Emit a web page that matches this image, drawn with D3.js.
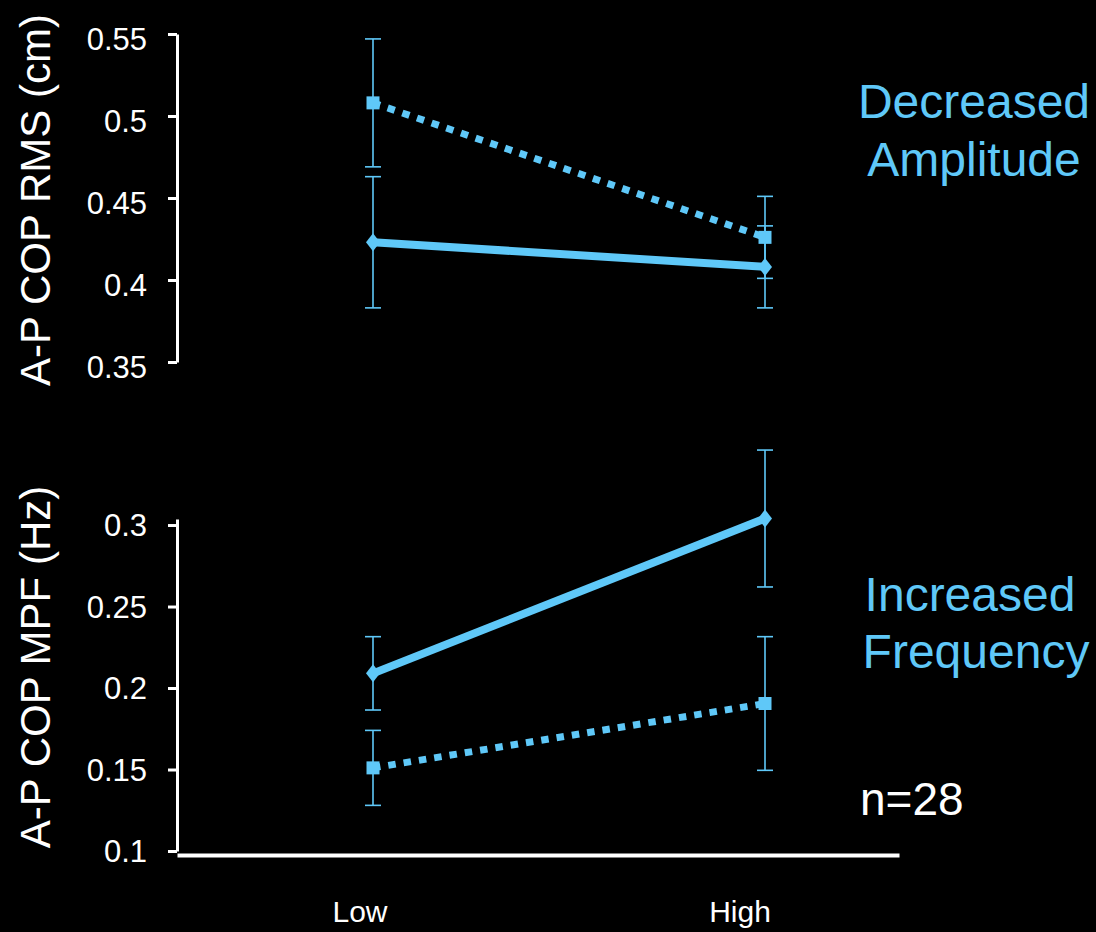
<!DOCTYPE html>
<html>
<head>
<meta charset="utf-8">
<script src="https://cdn.jsdelivr.net/npm/d3@7"></script>
<style>
    html, body { margin: 0; padding: 0; background: #000; }
    svg { display: block; }
    text { font-family: "Liberation Sans", Arial, sans-serif; }
</style>
</head>
<body>
<div id="chart"></div>
<script>
// conditions on the x axis
const conditions = ["Low", "High"];

// top panel: A-P COP RMS (cm)
const rmsTicks = [0.35, 0.4, 0.45, 0.5, 0.55];
const rmsTickLabels = ["0.35", "0.4", "0.45", "0.5", "0.55"];
const rmsSolid = [0.423, 0.408];
const rmsSolidErr = [0.040, 0.025];
const rmsDotted = [0.508, 0.426];
const rmsDottedErr = [0.039, 0.025];

// bottom panel: A-P COP MPF (Hz)
const mpfTicks = [0.1, 0.15, 0.2, 0.25, 0.3];
const mpfTickLabels = ["0.1", "0.15", "0.2", "0.25", "0.3"];
const mpfSolid = [0.209, 0.304];
const mpfSolidErr = [0.0225, 0.042];
const mpfDotted = [0.151, 0.1905];
const mpfDottedErr = [0.023, 0.041];

const width = 1096;
const height = 932;
const blue = "#5fc8f8";
const axisX = 177;

const svg = d3.select("#chart")
              .append("svg")
              .attr("width", width)
              .attr("height", height);

svg.append("rect")
   .attr("width", width)
   .attr("height", height)
   .attr("fill", "#000");

// category scales: data points and labels sit at slightly different spots
const xScale = d3.scalePoint().domain(conditions).range([373, 765]);
const xLabelScale = d3.scalePoint().domain(conditions).range([360, 740]);

const yTop = d3.scaleLinear().domain([0.35, 0.55]).range([362, 34]);
const yBottom = d3.scaleLinear().domain([0.1, 0.3037]).range([851, 519]);

function drawYAxis(scale, ticks, labels, dy) {
    const axis = d3.axisLeft(scale)
                   .tickValues(ticks)
                   .tickFormat((d, i) => labels[i])
                   .tickSize(9)
                   .tickSizeOuter(0)
                   .tickPadding(21);
    const g = svg.append("g")
                 .attr("transform", "translate(" + axisX + ",0)")
                 .call(axis);
    g.attr("font-size", 31).attr("font-family", "Liberation Sans, Arial, sans-serif");
    g.select(".domain").attr("stroke", "#fff").attr("stroke-width", 3);
    g.selectAll(".tick line").attr("stroke", "#fff").attr("stroke-width", 3);
    g.selectAll(".tick text")
     .attr("fill", "#fff")
     .attr("dy", dy);
}

function drawSeries(scale, values, errs, dotted, marker) {
    const pts = values.map((v, i) => ({ x: xScale(conditions[i]), v: v, e: errs[i] }));

    // error bars
    const eb = svg.append("g").attr("stroke", blue).attr("stroke-width", 1.6);
    pts.forEach((p) => {
        eb.append("line")
          .attr("x1", p.x).attr("x2", p.x)
          .attr("y1", scale(p.v + p.e)).attr("y2", scale(p.v - p.e));
        [p.v + p.e, p.v - p.e].forEach((c) => {
            eb.append("line")
              .attr("x1", p.x - 8).attr("x2", p.x + 8)
              .attr("y1", scale(c)).attr("y2", scale(c));
        });
    });

    const line = d3.line().x((d) => d.x).y((d) => scale(d.v));
    svg.append("path")
       .datum(pts)
       .attr("d", line)
       .attr("fill", "none")
       .attr("stroke", blue)
       .attr("stroke-width", dotted ? 7 : 8)
       .attr("stroke-dasharray", dotted ? "7.5,8" : null);

    svg.selectAll(null)
       .data(pts)
       .enter()
       .append("path")
       .attr("transform", (d) => "translate(" + d.x + "," + scale(d.v) + ")")
       .attr("d", marker === "square" ? "M-6.5,-6.5H6.5V6.5H-6.5Z" : "M0,-9L7,0L0,9L-7,0Z")
       .attr("fill", blue);
}

drawYAxis(yTop, rmsTicks, rmsTickLabels, "0.5em");
drawYAxis(yBottom, mpfTicks, mpfTickLabels, "0.34em");

drawSeries(yTop, rmsDotted, rmsDottedErr, true, "square");
drawSeries(yTop, rmsSolid, rmsSolidErr, false, "diamond");
drawSeries(yBottom, mpfDotted, mpfDottedErr, true, "square");
drawSeries(yBottom, mpfSolid, mpfSolidErr, false, "diamond");

// bottom x axis (no ticks)
const xLine = d3.scaleLinear().range([axisX, 899]);
const xg = svg.append("g")
              .attr("transform", "translate(0,855)")
              .call(d3.axisBottom(xLine).tickValues([]).tickSizeOuter(0));
xg.select(".domain").attr("stroke", "#fff").attr("stroke-width", 4);

svg.selectAll(".xlabel")
   .data(conditions)
   .enter()
   .append("text")
   .attr("class", "xlabel")
   .attr("x", (d) => xLabelScale(d))
   .attr("y", 922)
   .attr("text-anchor", "middle")
   .attr("font-size", 30)
   .attr("fill", "#fff")
   .text((d) => d);

// axis titles
svg.append("text")
   .attr("transform", "translate(50,200) rotate(-90)")
   .attr("text-anchor", "middle")
   .attr("font-size", 42)
   .attr("fill", "#fff")
   .text("A-P COP RMS (cm)");

svg.append("text")
   .attr("transform", "translate(50,667) rotate(-90)")
   .attr("text-anchor", "middle")
   .attr("font-size", 42)
   .attr("fill", "#fff")
   .text("A-P COP MPF (Hz)");

// annotations
const notes = [
    { text: "Decreased", x: 974, y: 118 },
    { text: "Amplitude", x: 974, y: 176 },
    { text: "Increased", x: 970, y: 611 },
    { text: "Frequency", x: 976, y: 668 }
];
svg.selectAll(".note")
   .data(notes)
   .enter()
   .append("text")
   .attr("class", "note")
   .attr("x", (d) => d.x)
   .attr("y", (d) => d.y)
   .attr("text-anchor", "middle")
   .attr("font-size", 48)
   .attr("fill", blue)
   .text((d) => d.text);

svg.append("text")
   .attr("x", 860)
   .attr("y", 815)
   .attr("font-size", 46)
   .attr("fill", "#fff")
   .text("n=28");
</script>
</body>
</html>
